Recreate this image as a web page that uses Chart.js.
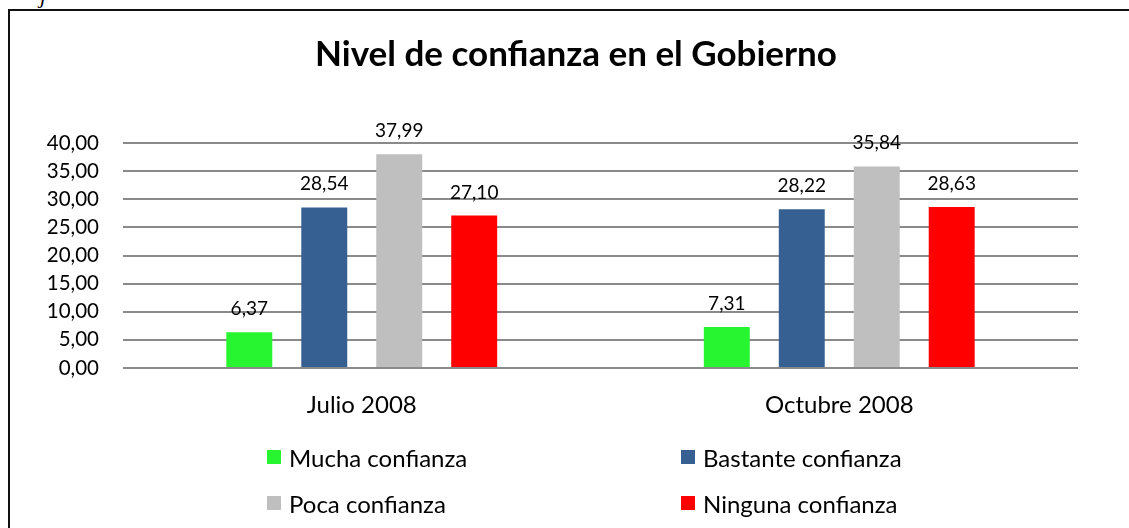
<!DOCTYPE html>
<html>
<head>
<meta charset="utf-8">
<script src="https://cdn.jsdelivr.net/npm/chart.js@4/dist/chart.umd.min.js"></script>
<style>
  body { margin: 0; width: 1129px; height: 528px; overflow: hidden; background: #fff; position: relative; font-family: Lato, sans-serif; }
  #stray { position: absolute; left: 40px; top: -17px; font: italic 22px "Liberation Serif", serif; color: #000; }
  #box { position: absolute; left: 8px; top: 9px; width: 1136px; height: 540px; border: 2px solid #111; background: #fff; }
  #wrap { position: absolute; left: 0; top: 0; width: 1132px; height: 517px; }
  #legend { position: absolute; left: 0; top: 0; }
  .item { position: absolute; height: 28px; display: flex; align-items: center; font: 24px Lato, sans-serif; color: #000; white-space: nowrap; }
  .item span { display: inline-block; width: 14px; height: 14px; margin-right: 8px; }
</style>
</head>
<body>
<div id="stray">j</div>
<div id="box">
  <div id="wrap"><canvas id="chart"></canvas></div>
</div>
<div id="legend"></div>
<script>
// data
const categories = ["Julio 2008", "Octubre 2008"];
const seriesNames = ["Mucha confianza", "Bastante confianza", "Poca confianza", "Ninguna confianza"];
const mucha = [6.37, 7.31];
const bastante = [28.54, 28.22];
const poca = [37.99, 35.84];
const ninguna = [27.10, 28.63];
const yTicks = [0, 5, 10, 15, 20, 25, 30, 35, 40];

const colors = ["#26F530", "#376092", "#BFBFBF", "#FF0000"];
const values = [mucha, bastante, poca, ninguna];

function comma(v) {
    return v.toFixed(2).replace(".", ",");
}

// value labels above the bars
const barLabels = {
    id: "barLabels",
    afterDatasetsDraw(chart) {
        let ctx = chart.ctx;
        ctx.save();
        ctx.font = "19px Lato";
        ctx.fillStyle = "#000";
        ctx.textAlign = "center";
        ctx.textBaseline = "alphabetic";
        chart.data.datasets.forEach((ds, i) => {
            chart.getDatasetMeta(i).data.forEach((bar, j) => {
                ctx.fillText(comma(ds.data[j]), bar.x, bar.y - 17);
            });
        });
        ctx.restore();
    }
};

let chart = new Chart(document.getElementById("chart"), {
    type: "bar",
    data: {
        labels: categories,
        datasets: seriesNames.map((name, i) => ({
            label: name,
            data: values[i],
            backgroundColor: colors[i],
            categoryPercentage: 0.628,
            barPercentage: 0.613
        }))
    },
    options: {
        responsive: true,
        maintainAspectRatio: false,
        animation: false,
        layout: { padding: 0 },
        plugins: {
            legend: { display: false },
            tooltip: { enabled: false },
            title: {
                display: true,
                text: "Nivel de confianza en el Gobierno",
                color: "#000",
                font: { family: "Lato", size: 35, weight: "bold" },
                padding: { top: 23, bottom: 67 }
            }
        },
        scales: {
            x: {
                grid: { display: false },
                border: { display: false },
                ticks: { color: "#000", font: { family: "Lato", size: 24 }, padding: 15 },
                afterFit(scale) { scale.height = 160; }
            },
            y: {
                min: 0,
                max: 40,
                afterBuildTicks(scale) { scale.ticks = yTicks.map(v => ({ value: v })); },
                grid: { color: "#8a8a8a", lineWidth: 2, drawTicks: false },
                border: { display: false },
                ticks: { color: "#000", font: { family: "Lato", size: 20.5 }, padding: 24, callback: v => comma(v) },
                afterFit(scale) { scale.width = 113; }
            },
            // empty right-hand axis: keeps the white margin on the right
            // without shifting the title off centre
            yRight: {
                position: "right",
                min: 0,
                max: 40,
                grid: { display: false },
                border: { display: false },
                ticks: { display: false },
                afterFit(scale) { scale.width = 64; }
            }
        }
    },
    plugins: [barLabels]
});

// legend in two columns
const legendPos = [[267, 443], [681, 443], [267, 489], [681, 489]];
let legend = document.getElementById("legend");
seriesNames.forEach((name, i) => {
    let div = document.createElement("div");
    div.className = "item";
    div.style.left = legendPos[i][0] + "px";
    div.style.top = legendPos[i][1] + "px";
    div.innerHTML = '<span style="background:' + colors[i] + '"></span>' + name;
    legend.appendChild(div);
});
</script>
</body>
</html>
